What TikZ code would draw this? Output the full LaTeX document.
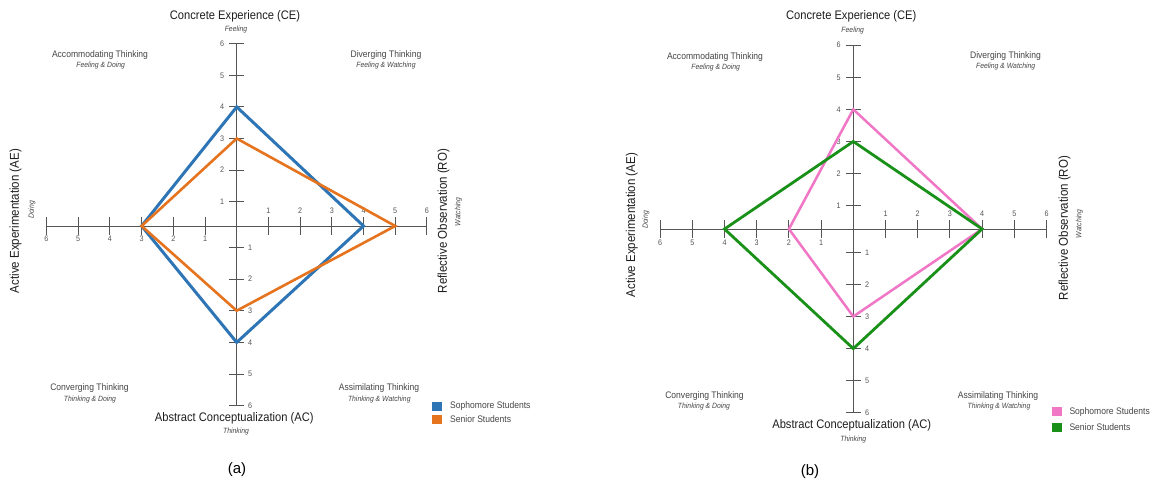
\documentclass[tikz,border=0pt]{standalone}
\usepackage{fontspec}
\setmainfont{Liberation Sans}
\newfontfamily\nar[FakeStretch=0.9]{Liberation Sans}
\definecolor{sophA}{RGB}{46,117,182}
\definecolor{seniA}{RGB}{230,115,30}
\definecolor{sophB}{RGB}{240,118,198}
\definecolor{seniB}{RGB}{25,145,25}
\definecolor{axgray}{RGB}{85,85,85}
\definecolor{txdark}{RGB}{30,30,30}
\definecolor{txmid}{RGB}{70,70,70}
\begin{document}
\begin{tikzpicture}[x=1pt,y=-1pt,
 axisline/.style={draw=axgray, line width=0.9pt},
 tickmark/.style={draw=axgray, line width=0.9pt},
 ticklab/.style={text=axgray, font=\nar\fontsize{8}{9}\selectfont, inner sep=0pt},
 axtitle/.style={text=txdark, font=\nar\fontsize{12.4}{14}\selectfont, inner sep=0pt},
 rottitle/.style={text=txdark, rotate=90, font=\nar\fontsize{12.8}{14}\selectfont, inner sep=0pt},
 axsub/.style={text=txmid, font=\nar\itshape\fontsize{7.6}{9}\selectfont, inner sep=0pt},
 rotsub/.style={axsub, rotate=90},
 quad/.style={text=txmid, font=\nar\fontsize{9.5}{11}\selectfont, inner sep=0pt},
 legtext/.style={text=txmid, font=\nar\fontsize{9.5}{11}\selectfont, anchor=west, inner sep=0pt},
 legbox/.style={minimum width=10pt, minimum height=9pt, inner sep=0pt},
 panellab/.style={text=black, font=\fontsize{15}{17}\selectfont, inner sep=0pt},
 lineSA/.style={draw=sophA, line width=3pt, line join=miter},
 lineNA/.style={draw=seniA, line width=2.6pt, line join=miter},
 lineSB/.style={draw=sophB, line width=2.5pt, line join=miter},
 lineNB/.style={draw=seniB, line width=2.8pt, line join=miter},
]
\useasboundingbox (0,0) rectangle (1162,486);
\fill[white] (0,0) rectangle (1162,486);

%================ PANEL (a) ================
\coordinate (aL) at (46.5,226);
\coordinate (aR) at (426.9,226);
\coordinate (aT) at (236.7,43.7);
\coordinate (aB) at (236.7,405.8);
\draw[axisline] (aL) -- (aR);
\draw[axisline] (aT) -- (aB);
\foreach \k in {1,...,6}{
  \draw[tickmark] ({236.7+31.7*\k},217) -- ++(0,18);
  \node[ticklab] at ({236.7+31.7*\k},211) {\k};
  \draw[tickmark] ({236.7-31.7*\k},217) -- ++(0,18);
  \node[ticklab] at ({236.7-31.7*\k},239) {\k};
  \draw[tickmark] (229.2,{226-24.3-31.6*(\k-1)}) -- ++(15,0);
  \node[ticklab] at (222,{226-24.3-31.6*(\k-1)}) {\k};
  \draw[tickmark] (229.2,{226+21.3+31.7*(\k-1)}) -- ++(15,0);
  \node[ticklab] at (250,{226+21.3+31.7*(\k-1)}) {\k};
}
\coordinate (aS-ce) at (236.7,106.9);
\coordinate (aS-ro) at (363.5,226);
\coordinate (aS-ac) at (236.7,342.4);
\coordinate (aS-ae) at (141.6,226);
\coordinate (aN-ce) at (236.7,138.5);
\coordinate (aN-ro) at (395.2,226);
\coordinate (aN-ac) at (236.7,310.7);
\coordinate (aN-ae) at (141.6,226);
\draw[lineSA] (aS-ce) -- (aS-ro) -- (aS-ac) -- (aS-ae) -- cycle;
\draw[lineNA] (aN-ce) -- (aN-ro) -- (aN-ac) -- (aN-ae) -- cycle;

\node[axtitle] (aCE) at (235,16) {Concrete Experience (CE)};
\node[axsub] (aCEs) at (236,30) {Feeling};
\node[quad] (aQ1) at (100,55.3) {Accommodating Thinking};
\node[axsub] (aQ1s) at (100.7,66) {Feeling \& Doing};
\node[quad] (aQ2) at (386,55.3) {Diverging Thinking};
\node[axsub] (aQ2s) at (386,66) {Feeling \& Watching};
\node[quad] (aQ3) at (89.5,388.3) {Converging Thinking};
\node[axsub] (aQ3s) at (90,399.3) {Thinking \& Doing};
\node[quad] (aQ4) at (379,388.3) {Assimilating Thinking};
\node[axsub] (aQ4s) at (379.3,399.3) {Thinking \& Watching};
\node[axtitle] (aAC) at (234.3,418.3) {Abstract Conceptualization (AC)};
\node[axsub] (aACs) at (236,431.7) {Thinking};
\node[rottitle] (aAE) at (15.5,221) {Active Experimentation (AE)};
\node[rotsub] (aAEs) at (32,210) {Doing};
\node[rottitle] (aRO) at (443.5,221) {Reflective Observation (RO)};
\node[rotsub] (aROs) at (458.3,212) {Watching};
\node[legbox, fill=sophA] (aLg1) at (436.7,406) {};
\node[legbox, fill=seniA] (aLg2) at (436.7,419.2) {};
\node[legtext] (aLt1) at (450,406) {Sophomore Students};
\node[legtext] (aLt2) at (450,419.2) {Senior Students};
\node[panellab] (aPan) at (237,470) {(a)};

%================ PANEL (b) ================
\coordinate (bL) at (660.1,229);
\coordinate (bR) at (1046.5,229);
\coordinate (bT) at (853.3,45.2);
\coordinate (bB) at (853.3,412.8);
\draw[axisline] (bL) -- (bR);
\draw[axisline] (bT) -- (bB);
\foreach \k in {1,...,6}{
  \draw[tickmark] ({853.3+32.2*\k},220) -- ++(0,18);
  \node[ticklab] at ({853.3+32.2*\k},213.5) {\k};
  \draw[tickmark] ({853.3-32.2*\k},220) -- ++(0,18);
  \node[ticklab] at ({853.3-32.2*\k},243) {\k};
  \draw[tickmark] (845.8,{229-23.3-32.1*(\k-1)}) -- ++(15,0);
  \node[ticklab] at (838.5,{229-23.3-32.1*(\k-1)}) {\k};
  \draw[tickmark] (845.8,{229+23.3+32.1*(\k-1)}) -- ++(15,0);
  \node[ticklab] at (867,{229+23.3+32.1*(\k-1)}) {\k};
}
\coordinate (bS-ce) at (853.3,109.4);
\coordinate (bS-ro) at (982.1,229);
\coordinate (bS-ac) at (853.3,316.5);
\coordinate (bS-ae) at (788.9,229);
\coordinate (bN-ce) at (853.3,141.5);
\coordinate (bN-ro) at (982.1,229);
\coordinate (bN-ac) at (853.3,348.6);
\coordinate (bN-ae) at (724.5,229);
\draw[lineSB] (bS-ce) -- (bS-ro) -- (bS-ac) -- (bS-ae) -- cycle;
\draw[lineNB] (bN-ce) -- (bN-ro) -- (bN-ac) -- (bN-ae) -- cycle;

\node[axtitle] (bCE) at (851.3,16.7) {Concrete Experience (CE)};
\node[axsub] (bCEs) at (852.7,31) {Feeling};
\node[quad] (bQ1) at (715,56.7) {Accommodating Thinking};
\node[axsub] (bQ1s) at (715.7,67.7) {Feeling \& Doing};
\node[quad] (bQ2) at (1005.5,56) {Diverging Thinking};
\node[axsub] (bQ2s) at (1005.7,67) {Feeling \& Watching};
\node[quad] (bQ3) at (704.5,395.7) {Converging Thinking};
\node[axsub] (bQ3s) at (704,406.7) {Thinking \& Doing};
\node[quad] (bQ4) at (998,395.7) {Assimilating Thinking};
\node[axsub] (bQ4s) at (999,406.7) {Thinking \& Watching};
\node[axtitle] (bAC) at (851.7,425.7) {Abstract Conceptualization (AC)};
\node[axsub] (bACs) at (853.3,440) {Thinking};
\node[rottitle] (bAE) at (631.7,225) {Active Experimentation (AE)};
\node[rotsub] (bAEs) at (646,220) {Doing};
\node[rottitle] (bRO) at (1064.5,228) {Reflective Observation (RO)};
\node[rotsub] (bROs) at (1079.3,224) {Watching};
\node[legbox, fill=sophB] (bLg1) at (1057.2,411.7) {};
\node[legbox, fill=seniB] (bLg2) at (1057.2,427) {};
\node[legtext] (bLt1) at (1069.3,411.7) {Sophomore Students};
\node[legtext] (bLt2) at (1069.3,427) {Senior Students};
\node[panellab] (bPan) at (810,472) {(b)};
\end{tikzpicture}
\end{document}
